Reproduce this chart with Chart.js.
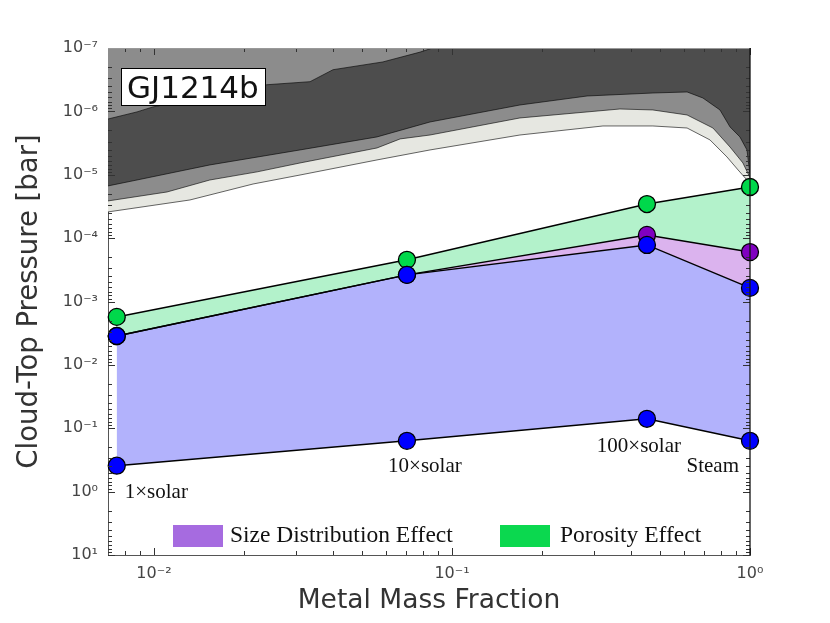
<!DOCTYPE html>
<html>
<head>
<meta charset="utf-8">
<script src="https://cdn.jsdelivr.net/npm/chart.js@4.4.0/dist/chart.umd.min.js"></script>
<style>
  html, body { margin: 0; padding: 0; background: #fff; }
</style>
</head>
<body>
<canvas id="myChart" width="830" height="623"></canvas>
<script>
// model cases along the x axis
var caseX = [0.0075, 0.0706, 0.451, 1.0];
var caseLabels = ['1\u00d7solar', '10\u00d7solar', '100\u00d7solar', 'Steam'];

// cloud-top pressures [bar]
var blueBottom = [0.39, 0.158, 0.071, 0.158];
var blueTop = [3.5e-3, 3.8e-4, 1.28e-4, 6.1e-4];
var purpleTop = [3.5e-3, 3.8e-4, 8.9e-5, 1.66e-4];
var greenTop = [1.75e-3, 2.2e-4, 2.9e-5, 1.56e-5];

// grey background bands (boundaries, top to bottom)
var band1X = [0.00701, 0.00877, 0.00993, 0.0239, 0.0334, 0.0399, 0.0586, 0.0782, 0.086, 1.0];
var band1P = [1.32e-6, 1.02e-6, 8.5e-7, 3.8e-7, 3.4e-7, 2.2e-7, 1.66e-7, 1.16e-7, 1.0e-7, 1.0e-7];
var band2X = [0.00701, 0.00877, 0.0154, 0.0309, 0.056, 0.0844, 0.169, 0.284, 0.472, 0.615, 0.695, 0.793, 0.857, 0.925, 0.977, 1.0];
var band2P = [1.5e-5, 1.21e-5, 7.0e-6, 4.06e-6, 2.53e-6, 1.47e-6, 7.93e-7, 5.72e-7, 5.13e-7, 4.94e-7, 6.15e-7, 9.5e-7, 1.76e-6, 2.53e-6, 4.06e-6, 1.01e-5];
var band3X = [0.00701, 0.01106, 0.0154, 0.0222, 0.0309, 0.056, 0.067, 0.0844, 0.169, 0.366, 0.472, 0.615, 0.751, 0.857, 0.947, 1.0];
var band3P = [2.59e-5, 1.87e-5, 1.21e-5, 9.0e-6, 6.52e-6, 3.78e-6, 2.72e-6, 2.36e-6, 1.27e-6, 9.17e-7, 9.5e-7, 1.14e-6, 1.83e-6, 3.65e-6, 6.52e-6, 1.12e-5];
var band4X = [0.00701, 0.0132, 0.0215, 0.0309, 0.056, 0.0844, 0.169, 0.321, 0.472, 0.615, 0.734, 0.837, 0.912, 0.977, 1.0];
var band4P = [3.86e-5, 2.5e-5, 1.4e-5, 1.01e-5, 5.84e-6, 4.06e-6, 2.36e-6, 1.7e-6, 1.7e-6, 1.83e-6, 2.82e-6, 5.24e-6, 8.4e-6, 1.21e-5, 1.45e-5];

var xTicks = [0.01, 0.1, 1];
var yTicks = [1e-7, 1e-6, 1e-5, 1e-4, 1e-3, 1e-2, 1e-1, 1, 10];

function pts(xs, ys) {
    return xs.map(function (x, i) { return { x: x, y: ys[i] }; });
}

var sup = { '-': '\u207b', '0': '\u2070', '1': '\u00b9', '2': '\u00b2', '3': '\u00b3', '4': '\u2074',
            '5': '\u2075', '6': '\u2076', '7': '\u2077', '8': '\u2078', '9': '\u2079' };
function powLabel(v) {
    var e = String(Math.round(Math.log10(v)));
    return '10' + e.split('').map(function (c) { return sup[c]; }).join('');
}

function band(xs, ps, color, order) {
    return {
        data: pts(xs, ps),
        borderColor: 'rgba(0,0,0,0.75)',
        borderWidth: 0.8,
        backgroundColor: color,
        pointRadius: 0,
        fill: { value: 1e-7 },
        order: order
    };
}

function series(ys, dot, fillColor, target, order) {
    return {
        data: pts(caseX, ys),
        borderColor: '#000',
        borderWidth: 1.5,
        pointRadius: 8.5,
        pointHoverRadius: 8.5,
        pointBackgroundColor: dot,
        pointBorderColor: '#000',
        pointBorderWidth: 1.3,
        backgroundColor: fillColor,
        fill: target === null ? false : { target: target },
        clip: false,
        order: order
    };
}

// inside tick marks, frame, labels and legend
var decor = {
    id: 'decor',
    afterDatasetsDraw: function (chart) {
        var c = chart.ctx, a = chart.chartArea;
        var xs = chart.scales.x, ys = chart.scales.y;
        c.save();
        c.strokeStyle = '#333';
        c.lineWidth = 1;
        c.beginPath();
        var n, k, v, p, len;
        for (n = -3; n <= 0; n++) {
            for (k = 1; k <= 9; k++) {
                v = k * Math.pow(10, n);
                if (v < xs.min || v > xs.max) continue;
                p = Math.round(xs.getPixelForValue(v)) + 0.5;
                len = k === 1 ? 7 : 4;
                c.moveTo(p, a.bottom); c.lineTo(p, a.bottom - len);
                c.moveTo(p, a.top); c.lineTo(p, a.top + len);
            }
        }
        for (n = -7; n <= 1; n++) {
            for (k = 1; k <= 9; k++) {
                v = k * Math.pow(10, n);
                if (v < ys.min || v > ys.max) continue;
                p = Math.round(ys.getPixelForValue(v)) + 0.5;
                len = k === 1 ? 7 : 4;
                c.moveTo(a.left, p); c.lineTo(a.left + len, p);
                c.moveTo(a.right, p); c.lineTo(a.right - len, p);
            }
        }
        c.stroke();
        // frame
        c.strokeStyle = '#999';
        c.beginPath(); c.moveTo(a.left, a.top + 0.5); c.lineTo(a.right, a.top + 0.5); c.stroke();
        c.strokeStyle = '#111';
        c.lineWidth = 1.3;
        c.beginPath(); c.moveTo(a.right, a.top); c.lineTo(a.right, a.bottom); c.stroke();

        // case labels, placed relative to the bottom blue points
        c.fillStyle = '#111';
        c.font = '21px "Liberation Serif"';
        c.textBaseline = 'alphabetic';
        var offs = [[8, 32, 'left'], [18, 31, 'center'], [-8, 33, 'center'], [-11, 31, 'right']];
        caseLabels.forEach(function (t, i) {
            var px = xs.getPixelForValue(caseX[i]);
            var py = ys.getPixelForValue(blueBottom[i]);
            c.textAlign = offs[i][2];
            c.fillText(t, px + offs[i][0], py + offs[i][1]);
        });

        // legend
        c.textAlign = 'left';
        c.font = '23.5px "Liberation Serif"';
        c.fillStyle = '#a66be0';
        c.fillRect(173, 525, 50, 22);
        c.fillStyle = '#0bd84f';
        c.fillRect(500, 525, 50, 22);
        c.fillStyle = '#111';
        c.fillText('Size Distribution Effect', 230, 542);
        c.fillText('Porosity Effect', 560, 542);

        // planet tag
        c.fillStyle = '#fff';
        c.fillRect(121, 68, 145, 38);
        c.strokeStyle = '#000';
        c.lineWidth = 1;
        c.strokeRect(121.5, 68.5, 144, 37);
        c.fillStyle = '#111';
        c.font = '31px "DejaVu Sans"';
        c.fillText('GJ1214b', 127, 98);
        c.restore();
    }
};

var ctx = document.getElementById('myChart').getContext('2d');
var myChart = new Chart(ctx, {
    type: 'line',
    data: {
        datasets: [
            band(band1X, band1P, '#8c8c8c', 10),
            band(band2X, band2P, '#4d4d4d', 11),
            band(band3X, band3P, '#8c8c8c', 12),
            band(band4X, band4P, '#e6e7e1', 13),
            series(greenTop, '#00d84b', '#b3f2cb', 6, 4),
            series(purpleTop, '#8000c0', '#dbb3ee', 6, 3),
            series(blueBottom, '#0000ff', 'transparent', null, 0),
            series(blueTop, '#0000ff', '#b2b2fc', 6, 1)
        ]
    },
    options: {
        responsive: false,
        animation: false,
        layout: { padding: { top: 48, right: 80, left: 0, bottom: 0 } },
        plugins: {
            legend: { display: false },
            tooltip: { enabled: false },
            filler: { drawTime: 'beforeDatasetsDraw' }
        },
        scales: {
            x: {
                type: 'logarithmic',
                min: 0.00701,
                max: 1,
                afterBuildTicks: function (s) { s.ticks = xTicks.map(function (v) { return { value: v }; }); },
                afterFit: function (s) { s.height = 68; },
                grid: { display: false, drawTicks: false },
                border: { display: true, color: '#555', width: 1 },
                ticks: {
                    autoSkip: false, maxRotation: 0, padding: 9, color: '#444',
                    font: { family: 'DejaVu Sans', size: 16 },
                    callback: function (v) { return powLabel(v); }
                },
                title: {
                    display: true, text: 'Metal Mass Fraction', color: '#333',
                    font: { family: 'DejaVu Sans', size: 26.5 }, padding: 6
                }
            },
            y: {
                type: 'logarithmic',
                reverse: true,
                min: 1e-7,
                max: 10,
                afterBuildTicks: function (s) { s.ticks = yTicks.map(function (v) { return { value: v }; }); },
                afterFit: function (s) { s.width = 108; },
                grid: { display: false, drawTicks: false },
                border: { display: true, color: '#555', width: 1 },
                ticks: {
                    autoSkip: false, padding: 10, color: '#444',
                    font: { family: 'DejaVu Sans', size: 16 },
                    callback: function (v) { return powLabel(v); }
                },
                title: {
                    display: true, text: 'Cloud-Top Pressure [bar]', color: '#333',
                    font: { family: 'DejaVu Sans', size: 27.5 }, padding: 13
                }
            }
        }
    },
    plugins: [decor]
});
</script>
</body>
</html>
